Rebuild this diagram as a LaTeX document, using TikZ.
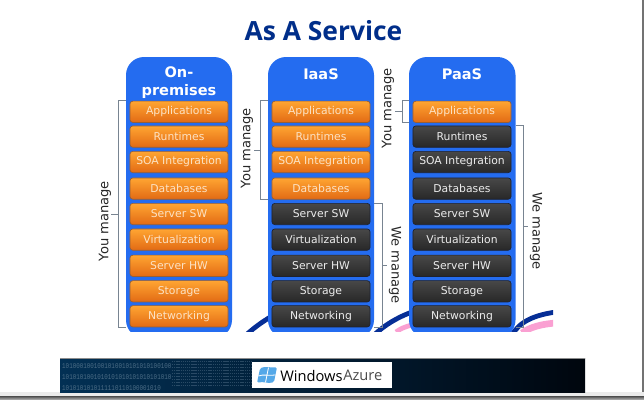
\documentclass[tikz,border=0pt]{standalone}
\usepackage{fontspec}
\setmainfont{DejaVu Sans}
\newfontfamily\titlefont{Open Sans}
\newfontfamily\brandfont{Open Sans}
\newfontfamily\digitfont{Liberation Mono}
\usetikzlibrary{calc}
\definecolor{titleblue}{RGB}{0,46,138}
\definecolor{colblue}{RGB}{36,108,240}
\definecolor{swoosh}{RGB}{6,46,150}
\definecolor{swooshpink}{RGB}{250,160,210}
\definecolor{brk}{RGB}{120,132,145}
\definecolor{orangehi}{RGB}{255,165,50}
\definecolor{orangelo}{RGB}{226,106,20}
\definecolor{orangeedge}{RGB}{150,95,55}
\definecolor{orangetext}{RGB}{252,226,196}
\definecolor{darkhi}{RGB}{72,72,72}
\definecolor{darklo}{RGB}{40,40,40}
\definecolor{darkedge}{RGB}{30,34,48}
\definecolor{darktext}{RGB}{236,236,236}
\definecolor{bannerl}{RGB}{2,48,84}
\definecolor{bannerr}{RGB}{0,6,14}
\definecolor{flagblue}{RGB}{84,168,232}
\tikzset{
  colpanel/.style={fill=colblue,draw=none,rounded corners=13.5pt},
  coltitle/.style={text=white,font=\fontsize{10.9}{13.5}\selectfont\bfseries,align=center,inner sep=0pt},
  layerbox/.style={rounded corners=2.2pt,minimum width=73.6pt,minimum height=16pt,inner sep=0pt,
    font=\fontsize{8.1}{9}\selectfont},
  ownbox/.style={layerbox,top color=orangehi,bottom color=orangelo,draw=orangeedge,line width=.5pt,text=orangetext},
  hostbox/.style={layerbox,top color=darkhi,bottom color=darklo,draw=darkedge,line width=.5pt,text=darktext},
  bracketline/.style={draw=brk,line width=.7pt},
  sidelabel/.style={font=\fontsize{9.8}{11}\selectfont,text=black!85,inner sep=0pt},
  arc band/.style={line width=3.6pt,line cap=butt},
}
\begin{document}
\begin{tikzpicture}[x=.75pt,y=-.75pt]
\useasboundingbox (0,0) rectangle (644,400);
\fill[white] (0,0) rectangle (644,400);

% page shadow along the right and lower edges
\fill[black!55] (641.5,0) rectangle (644,396);
\fill[black!8] (0,392) rectangle (644,396);
\shade[top color=black!70,bottom color=black!25] (0,396) rectangle (644,400);

\node[font=\titlefont\fontsize{19.8}{24}\selectfont\bfseries,text=titleblue,inner sep=0pt] (title) at (323.5,30.5) {As A Service};

% sweeping arcs behind the columns, cut off at the slide's lower edge
\begin{scope}
\clip (230,300) rectangle (553,331);
\draw[swoosh,arc band] (246,335) .. controls (255,327) and (262,322) .. (272,316);
\draw[swoosh,arc band] (374,335) .. controls (385,325) and (396,318) .. (412,312);
\draw[swooshpink,line width=3.6pt] (396,332) .. controls (400,329) and (404,327) .. (412,325);
\draw[swoosh,arc band] (512,335) .. controls (520,321) and (535,315) .. (556,312);
\draw[swooshpink,line width=5pt] (522,333) .. controls (530,327) and (542,324) .. (556,323);
\end{scope}

% the three column panels
\begin{scope}
\clip (100,50) rectangle (530,331);
\fill[colpanel] (126,57) rectangle (232,338);
\fill[colpanel] (268,57) rectangle (374,338);
\fill[colpanel] (409,57) rectangle (515.5,338);
\end{scope}
\coordinate (col1w) at (126,57);
\coordinate (col2w) at (268,57);
\coordinate (col2e) at (374,57);
\coordinate (col3w) at (409,57);
\coordinate (col3e) at (515.5,57);

\node[coltitle] (t1) at (179,83) {On-\\premises};
\node[coltitle] (t2) at (321,74.5) {IaaS};
\node[coltitle] (t3) at (462,74.5) {PaaS};

% layer stacks
\def\ya{111.8}\def\yb{136.6}\def\yc{162}\def\yd{188.6}\def\ye{214}\def\yf{239.6}\def\yg{265.8}\def\yh{291.3}\def\yi{316.3}

\node[ownbox] (a1) at (179,\ya) {Applications};
\node[ownbox] (b1) at (179,\yb) {Runtimes};
\node[ownbox] (c1) at (179,\yc) {SOA Integration};
\node[ownbox] (d1) at (179,\yd) {Databases};
\node[ownbox] (e1) at (179,\ye) {Server SW};
\node[ownbox] (f1) at (179,\yf) {Virtualization};
\node[ownbox] (g1) at (179,\yg) {Server HW};
\node[ownbox] (h1) at (179,\yh) {Storage};
\node[ownbox] (i1) at (179,\yi) {Networking};

\node[ownbox] (a2) at (321,\ya) {Applications};
\node[ownbox] (b2) at (321,\yb) {Runtimes};
\node[ownbox] (c2) at (321,\yc) {SOA Integration};
\node[ownbox] (d2) at (321,\yd) {Databases};
\node[hostbox] (e2) at (321,\ye) {Server SW};
\node[hostbox] (f2) at (321,\yf) {Virtualization};
\node[hostbox] (g2) at (321,\yg) {Server HW};
\node[hostbox] (h2) at (321,\yh) {Storage};
\node[hostbox] (i2) at (321,\yi) {Networking};

\node[ownbox] (a3) at (462,\ya) {Applications};
\node[hostbox] (b3) at (462,\yb) {Runtimes};
\node[hostbox] (c3) at (462,\yc) {SOA Integration};
\node[hostbox] (d3) at (462,\yd) {Databases};
\node[hostbox] (e3) at (462,\ye) {Server SW};
\node[hostbox] (f3) at (462,\yf) {Virtualization};
\node[hostbox] (g3) at (462,\yg) {Server HW};
\node[hostbox] (h3) at (462,\yh) {Storage};
\node[hostbox] (i3) at (462,\yi) {Networking};

% responsibility brackets with their ticks and labels
\draw[bracketline] (a1.north -| col1w) -- ++(-7.5,0) |- (i1.south -| col1w);
\coordinate (m1) at ($(a1.north -| col1w)!.5!(i1.south -| col1w)$);
\draw[bracketline] (m1) ++(-7.5,0) -- ++(-8,0);
\node[sidelabel,rotate=90] (you1) at (105,221) {You manage};

\draw[bracketline] (a2.north -| col2w) -- ++(-8,0) |- (d2.south -| col2w);
\coordinate (m2) at ($(a2.north -| col2w)!.5!(d2.south -| col2w)$);
\draw[bracketline] (m2) ++(-8,0) -- ++(-6,0);
\node[sidelabel,rotate=90] (you2) at (247,148) {You manage};

\draw[bracketline] (e2.north -| col2e) -- ++(8,0) |- (i2.south -| col2e);
\coordinate (m3) at ($(e2.north -| col2e)!.5!(i2.south -| col2e)$);
\draw[bracketline] (m3) ++(8,0) -- ++(5,0);
\node[sidelabel,rotate=-90] (we2) at (395,265) {We manage};

\draw[bracketline] (a3.north -| col3w) -- ++(-7,0) |- (a3.south -| col3w);
\coordinate (m4) at ($(a3.north -| col3w)!.5!(a3.south -| col3w)$);
\draw[bracketline] (m4) ++(-7,0) -- ++(-7,0);
\node[sidelabel,rotate=90] (you3) at (388,108) {You manage};

\draw[bracketline] (b3.north -| col3e) -- ++(7.5,0) |- (i3.south -| col3e);
\coordinate (m5) at ($(b3.north -| col3e)!.5!(i3.south -| col3e)$);
\draw[bracketline] (m5) ++(7.5,0) -- ++(5,0);
\node[sidelabel,rotate=-90] (we3) at (536,231) {We manage};

% footer banner
\shade[left color=bannerl,right color=bannerr,middle color=bannerl!55!bannerr] (60,358) rectangle (585,392);
\draw[black!45,line width=.4pt] (60,358) -- (585,358);
\foreach \yy/\digits in {366/1010001001001010010101010100100,
  377/1010101001010101010101010101010,
  388/1010101010111110110100001010}{
  \node[anchor=west,inner sep=0pt,xscale=.8,transform shape,text=bannerl!55!white!65!bannerl,font=\digitfont\fontsize{5.5}{7}\selectfont] at (62,\yy) {\digits};
}
\foreach \yy in {361,364,367,370,373,376,379,382,385}{
  \draw[bannerl!65!white,opacity=.45,line width=.5pt,dash pattern=on 1pt off .6pt] (172,\yy) -- (252,\yy);
}

\node[fill=white,minimum width=105pt,minimum height=19.6pt,inner sep=0pt] (logo) at (322,375) {};
% four-pane window flag
\fill[rounded corners=1.2pt,fill=flagblue] (260,368.5) .. controls (265,366) and (271,368) .. (277,367)
  -- (274,382) .. controls (268,384) and (263,381) .. (257,383) -- cycle;
\draw[white,line width=.6pt] (268.5,367.5) -- (265.5,382.5);
\draw[white,line width=.6pt] (258.5,376) .. controls (263,374) and (269,376) .. (275.5,375);
\node[anchor=west,inner sep=0pt,font=\brandfont\fontsize{11}{13}\selectfont,text=black] (brand) at (280,375.5) {Windows};
\node[anchor=west,inner sep=0pt,font=\brandfont\fontsize{11}{13}\selectfont,text=black!70] (brand2) at (343,375.5) {Azure};
\end{tikzpicture}
\end{document}
